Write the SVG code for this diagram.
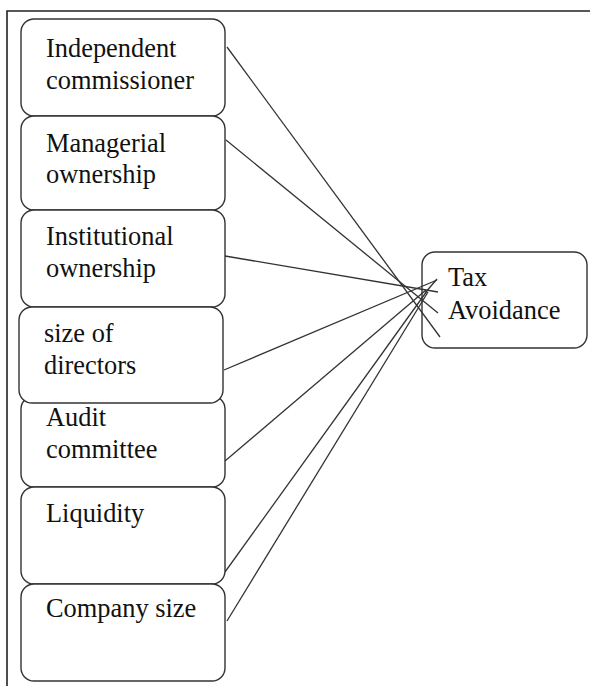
<svg xmlns="http://www.w3.org/2000/svg" width="590" height="686" viewBox="0 0 590 686">
<style>
.box{fill:#fff;stroke:#333;stroke-width:1.4}
.t{font-family:"Liberation Serif","Times New Roman",serif;font-size:26.4px;fill:#111}
.c{stroke:#333;stroke-width:1.3;fill:none}
</style>
<rect x="0" y="0" width="590" height="686" fill="#fff"/>
<path d="M7,686 V11 H592" fill="none" stroke="#222" stroke-width="1.6"/>
<g id="connectors">
<line class="c" x1="227" y1="47" x2="440" y2="337"/>
<line class="c" x1="226" y1="140" x2="438" y2="313"/>
<line class="c" x1="225" y1="256" x2="438" y2="292"/>
<line class="c" x1="224" y1="370" x2="437" y2="280"/>
<line class="c" x1="225" y1="461" x2="426" y2="290"/>
<line class="c" x1="225" y1="572" x2="427" y2="291"/>
<line class="c" x1="227" y1="621" x2="428" y2="292"/>
<path class="c" d="M425,293 L437,279" stroke-width="2"/>
</g>
<g id="n1"><rect class="box" x="21" y="19" width="204" height="97" rx="13"/>
<text class="t" x="46" y="57">Independent</text><text class="t" x="46" y="89">commissioner</text></g>
<g id="n2"><rect class="box" x="21" y="116" width="204" height="94" rx="13"/>
<text class="t" x="46" y="152">Managerial</text><text class="t" x="46" y="183">ownership</text></g>
<g id="n3"><rect class="box" x="21" y="210" width="204" height="97" rx="13"/>
<text class="t" x="46" y="245">Institutional</text><text class="t" x="46" y="277">ownership</text></g>
<g id="n5"><rect class="box" x="21" y="396" width="204" height="91" rx="13"/>
<text class="t" x="46" y="426">Audit</text><text class="t" x="46" y="458">committee</text></g>
<g id="n4"><rect class="box" x="19" y="307" width="204" height="96" rx="13"/>
<text class="t" x="44" y="342">size of</text><text class="t" x="44" y="374">directors</text></g>
<g id="n6"><rect class="box" x="21" y="487" width="204" height="97" rx="13"/>
<text class="t" x="46" y="522">Liquidity</text></g>
<g id="n7"><rect class="box" x="21" y="584" width="204" height="97" rx="13"/>
<text class="t" x="46" y="617">Company size</text></g>
<g id="tax"><rect class="box" x="422" y="252" width="165" height="96" rx="13" style="fill:none"/>
<text class="t" x="448" y="286">Tax</text><text class="t" x="448" y="319">Avoidance</text></g>
</svg>
